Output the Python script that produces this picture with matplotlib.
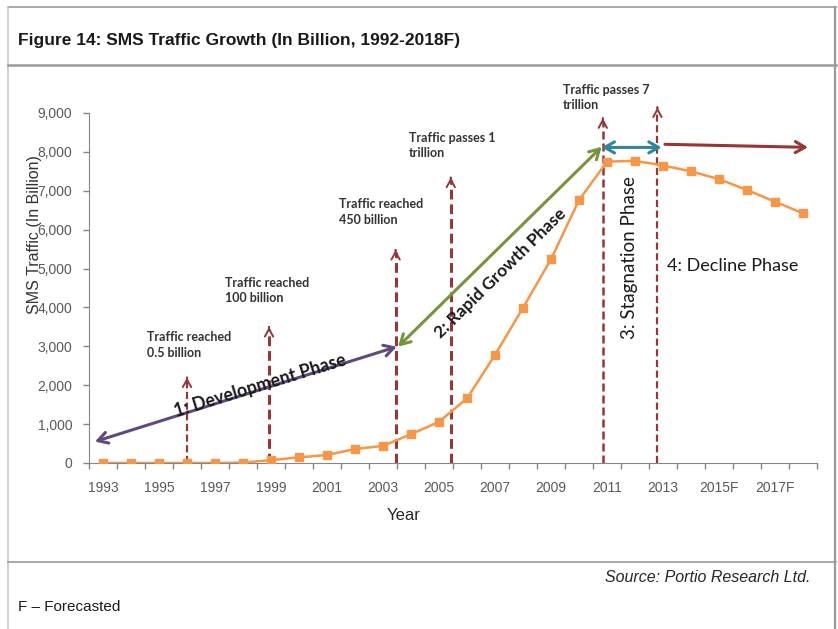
import matplotlib
matplotlib.use('Agg')
import matplotlib.pyplot as plt
from matplotlib.lines import Line2D
from matplotlib.ticker import FuncFormatter

# data
years = ['1993', '1994', '1995', '1996', '1997', '1998', '1999', '2000', '2001',
         '2002', '2003', '2004', '2005', '2006', '2007', '2008', '2009', '2010',
         '2011', '2012', '2013', '2014', '2015F', '2016F', '2017F', '2018F']
traffic = [0, 0, 0, 0, 0, 10, 75, 145, 205, 360, 440, 740, 1060, 1660, 2780,
           3990, 5240, 6760, 7750, 7770, 7650, 7500, 7300, 7020, 6720, 6420]

# milestone markers (x position on category axis, arrow tip value)
milestone_x = [3.0, 5.93, 10.45, 12.42, 17.85, 19.8]
milestone_top = [2200, 3500, 5480, 7340, 8865, 9145]
milestone_lw = [1.6, 2.2, 2.2, 2.2, 1.8, 1.6]
milestone_text = ['Traffic reached\n0.5 billion', 'Traffic reached\n100 billion',
                  'Traffic reached\n450 billion', 'Traffic passes 1\ntrillion',
                  'Traffic passes 7\ntrillion']
milestone_text_xy = [(1.57, 3034), (4.36, 4436), (8.43, 6454), (10.93, 8164), (16.43, 9399)]

W, H = 838, 629
fig = plt.figure(figsize=(W / 100, H / 100), dpi=100)
fig.patch.set_facecolor('white')

def fx(px):
    return px / W

def fy(py):
    return 1 - py / H

ax = fig.add_axes([fx(89), fy(463), fx(817) - fx(89), fy(113) - fy(463)])
x = list(range(len(years)))
ax.plot(x, traffic, color='#F79646', lw=1.8, marker='s', ms=5.5, zorder=3)

ax.set_xlim(-0.5, len(years) - 0.5)
ax.set_ylim(0, 9000)
ax.set_yticks(range(0, 9001, 1000))
ax.yaxis.set_major_formatter(FuncFormatter(lambda v, p: '{:,.0f}'.format(v)))
ax.set_xticks([i - 0.5 for i in range(len(years) + 1)])
ax.set_xticklabels([])
ax.set_xticks(x[::2], minor=True)
ax.set_xticklabels(years[::2], minor=True)
ax.tick_params(axis='x', which='minor', length=0, pad=13)
ax.tick_params(axis='both', which='major', length=4, color='#868686', width=1)
ax.tick_params(axis='y', which='major', pad=8)
ax.tick_params(axis='both', which='both', labelsize=10, labelcolor='#595959')
for lab in ax.get_xticklabels(minor=True) + ax.get_yticklabels():
    lab.set_family('Liberation Sans')
for s in ['top', 'right']:
    ax.spines[s].set_visible(False)
for s in ['left', 'bottom']:
    ax.spines[s].set_color('#868686')
ax.patch.set_alpha(0)

dark_red = '#953735'
# dashed milestone lines with open arrow heads
for mx, mt, lw in zip(milestone_x, milestone_top, milestone_lw):
    ax.plot([mx, mx], [0, mt - 60], color=dark_red, lw=lw, ls=(0, (3.2, 1.6)),
            clip_on=False, zorder=2)
    ax.annotate('', xy=(mx, mt), xytext=(mx, mt - 5), annotation_clip=False,
                arrowprops=dict(arrowstyle='->,head_length=0.55,head_width=0.3',
                                color=dark_red, lw=1.4, shrinkA=0, shrinkB=0))

for t, (tx, ty) in zip(milestone_text, milestone_text_xy):
    ax.text(tx, ty, t, family='Lato', fontweight='bold', fontsize=9, color='#333333',
            ha='left', va='center', linespacing=1.35, clip_on=False)

# phase arrows
def phase_arrow(p0, p1, color, style='<->'):
    ax.annotate('', xy=p1, xytext=p0, annotation_clip=False,
                arrowprops=dict(arrowstyle=style + ',head_length=0.7,head_width=0.4',
                                color=color, lw=2.2, shrinkA=0, shrinkB=0))

phase_arrow((-0.29, 550), (10.49, 2990), '#604A7B')
phase_arrow((10.54, 2990), (17.81, 8130), '#77933C')
phase_arrow((17.81, 8115), (19.95, 8115), '#31859C')
phase_arrow((20.07, 8195), (25.18, 8117), dark_red, style='->')

ax.text(5.61, 2000, '1: Development Phase', family='Lato', fontweight='bold', fontsize=12.8,
        rotation=17, rotation_mode='anchor', ha='center', va='center', color='#1a1a1a')
ax.text(14.18, 4886, '2: Rapid Growth Phase', family='Lato', fontweight='bold', fontsize=12.5,
        rotation=44.5, rotation_mode='anchor', ha='center', va='center', color='#1a1a1a')
ax.text(18.82, 5271, '3: Stagnation Phase', family='Lato', fontsize=13.5,
        rotation=90, ha='center', va='center', color='#1a1a1a')
ax.text(20.14, 5066, '4: Decline Phase', family='Lato', fontsize=13,
        ha='left', va='center', color='#1a1a1a')

# axis titles
fig.text(fx(34), fy(235), 'SMS Traffic (In Billion)', rotation=90, ha='center', va='center',
         family='Liberation Sans', fontsize=11.5, color='#333333')
fig.text(fx(404), fy(515), 'Year', ha='center', va='center',
         family='Liberation Sans', fontsize=12, color='#262626')

# frame and header/footer
frame = '#9a9a9a'
fig.add_artist(Line2D([fx(8), fx(836)], [fy(7), fy(7)], color=frame, lw=1.2))
fig.add_artist(Line2D([fx(8), fx(8)], [fy(7), fy(629)], color='#c8c8c8', lw=1.2))
fig.add_artist(Line2D([fx(835), fx(835)], [fy(7), fy(629)], color=frame, lw=1.6))
fig.add_artist(Line2D([fx(8), fx(836)], [fy(65), fy(65)], color=frame, lw=1.8))
fig.add_artist(Line2D([fx(8), fx(836)], [fy(562), fy(562)], color=frame, lw=1.2))

fig.text(fx(18), fy(41), 'Figure 14: SMS Traffic Growth (In Billion, 1992-2018F)',
         family='Liberation Sans', fontweight='bold', fontsize=12.5, color='#1a1a1a',
         ha='left', va='center')
fig.text(fx(810), fy(578), 'Source: Portio Research Ltd.', family='Liberation Sans',
         style='italic', fontsize=11.5, color='#262626', ha='right', va='center')
fig.text(fx(18), fy(607), 'F \u2013 Forecasted', family='Liberation Sans',
         fontsize=11, color='#1a1a1a', ha='left', va='center')

fig.savefig('out.png', dpi=100)
